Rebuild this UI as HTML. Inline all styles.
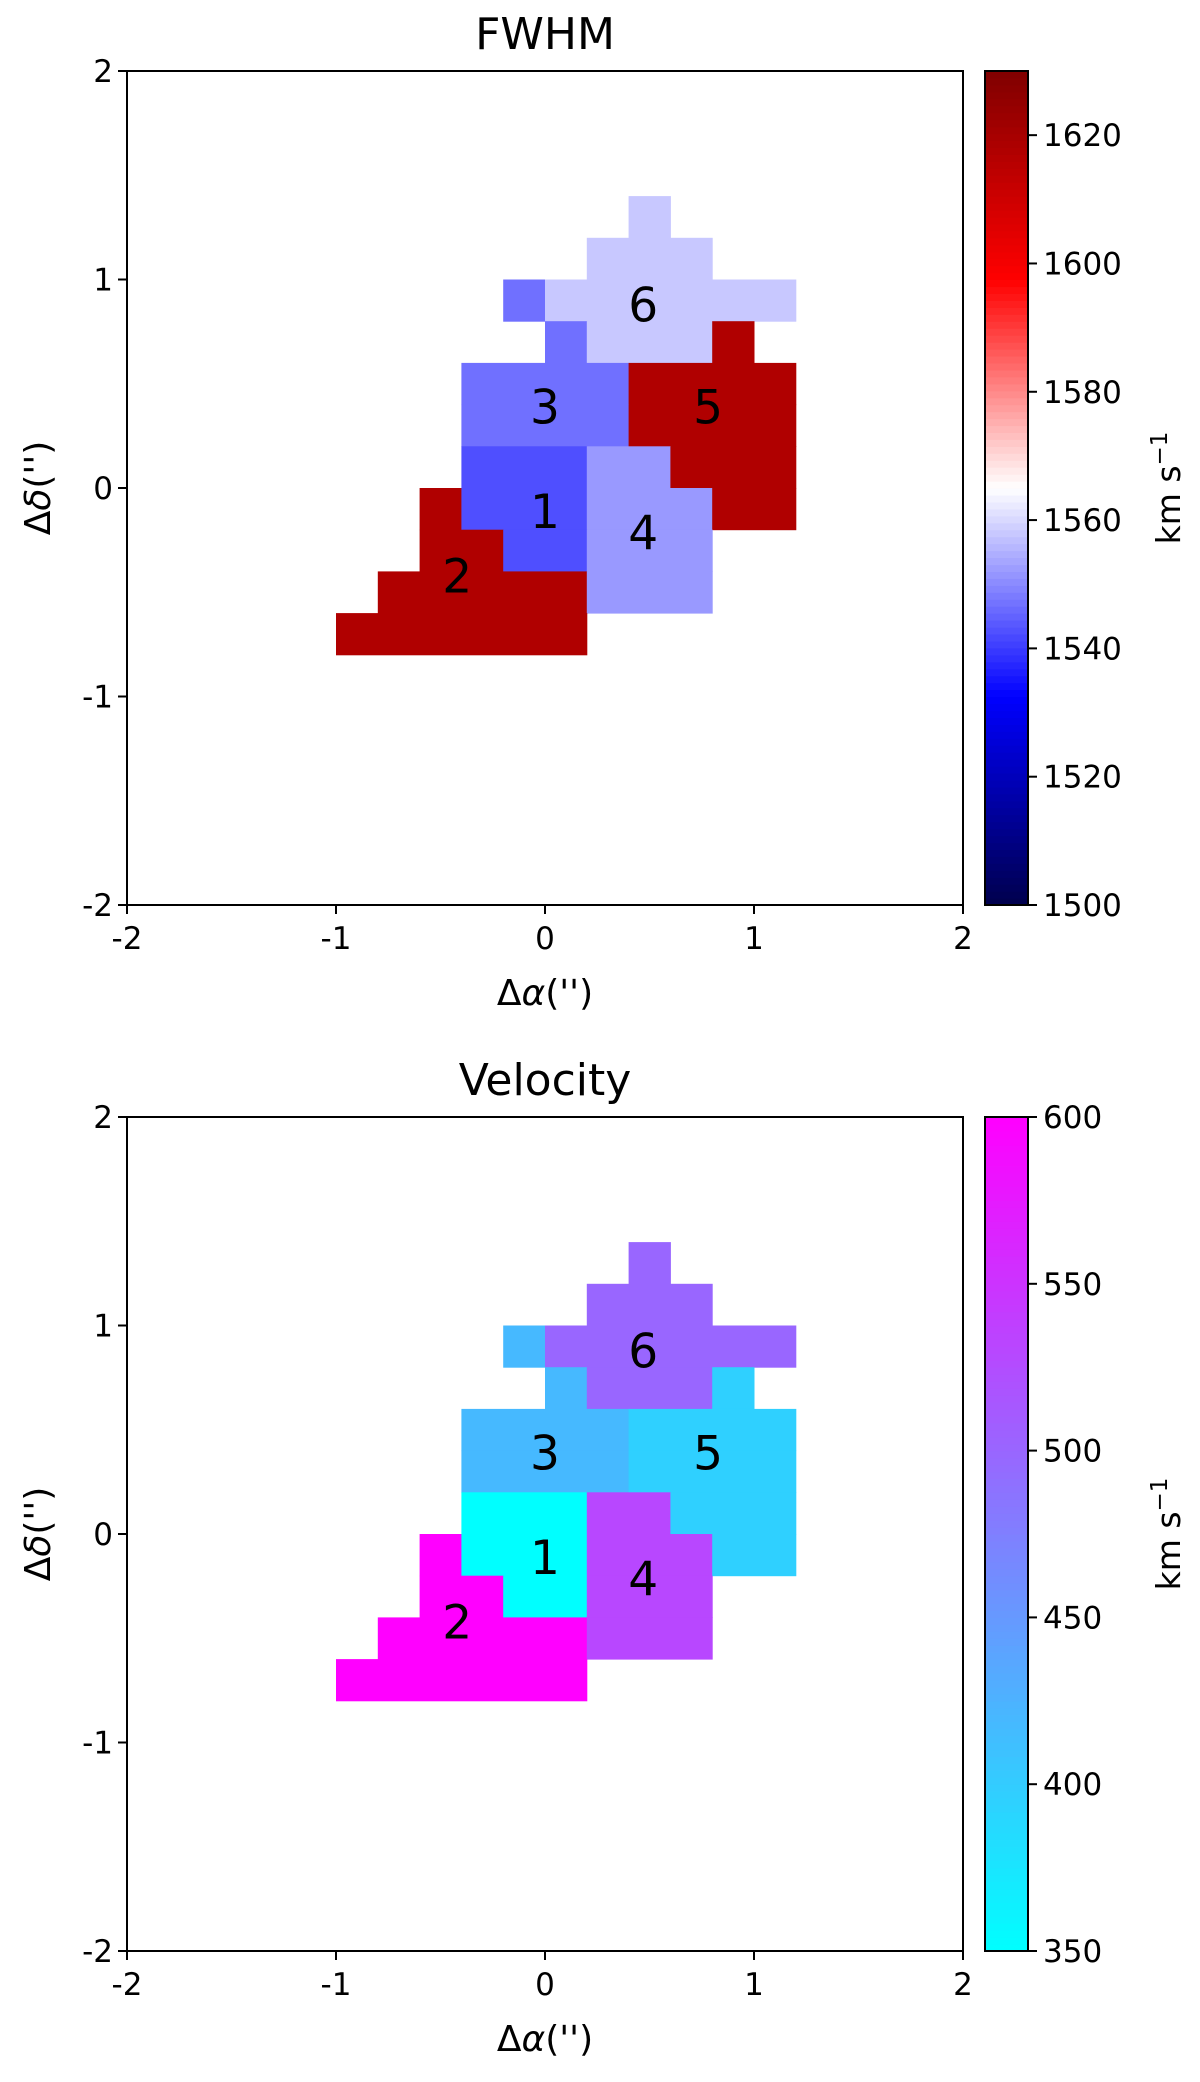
<!DOCTYPE html>
<html><head><meta charset="utf-8"><style>
body{margin:0;background:#fff}
svg text{font-family:"DejaVu Sans","Liberation Sans",sans-serif;fill:#000}
</style></head><body>
<svg id="fig" width="1200" height="2077" xmlns="http://www.w3.org/2000/svg"></svg>
<script>
// Region map: each row = [yBottom, xStart, xEnd, regionId] in arcsec (cell size 0.2)
const cellRows = [
 [1.2,0.4,0.6,6],
 [1.0,0.2,0.8,6],
 [0.8,-0.2,0.0,3],[0.8,0.0,1.2,6],
 [0.6,0.0,0.2,3],[0.6,0.2,0.8,6],[0.6,0.8,1.0,5],
 [0.4,-0.4,0.4,3],[0.4,0.4,1.2,5],
 [0.2,-0.4,0.4,3],[0.2,0.4,1.2,5],
 [0.0,-0.4,0.2,1],[0.0,0.2,0.6,4],[0.0,0.6,1.2,5],
 [-0.2,-0.6,-0.4,2],[-0.2,-0.4,0.2,1],[-0.2,0.2,0.8,4],[-0.2,0.8,1.2,5],
 [-0.4,-0.6,-0.2,2],[-0.4,-0.2,0.2,1],[-0.4,0.2,0.8,4],
 [-0.6,-0.8,0.2,2],[-0.6,0.2,0.8,4],
 [-0.8,-1.0,0.2,2]
];
const regionIds = [1,2,3,4,5,6];
const fwhmValues = [1542.6,1617.6,1546.8,1552,1617.6,1558];
const velocityValues = [350,600,418.6,530,396,500];
const labelX = [0.0,-0.42,0.0,0.47,0.78,0.47];
const labelY = [-0.11,-0.42,0.39,-0.21,0.39,0.88];
const axisTicks = [-2,-1,0,1,2];
const fwhmCbarTicks = [1500,1520,1540,1560,1580,1600,1620];
const velCbarTicks = [350,400,450,500,550,600];

const NS="http://www.w3.org/2000/svg";
const svg=document.getElementById('fig');
function mk(tag,attrs,parent){const e=document.createElementNS(NS,tag);for(const k in attrs)e.setAttribute(k,attrs[k]);(parent||svg).appendChild(e);return e;}
function seismic(t){t=Math.max(0,Math.min(1,t));let r,g,b;
 if(t<0.25){r=0;g=0;b=0.3+0.7*t/0.25;}
 else if(t<0.5){const s=(t-0.25)/0.25;r=s;g=s;b=1;}
 else if(t<0.75){const s=(t-0.5)/0.25;r=1;g=1-s;b=1-s;}
 else{const s=(t-0.75)/0.25;r=1-0.5*s;g=0;b=0;}
 return `rgb(${Math.round(r*255)},${Math.round(g*255)},${Math.round(b*255)})`;}
function cool(t){t=Math.max(0,Math.min(1,t));return `rgb(${Math.round(t*255)},${Math.round((1-t)*255)},255)`;}

function panel(p){
 const L=127,R=963,T=p.top,B=p.top+834;
 const sx=v=>L+(v+2)/4*(R-L), sy=v=>B-(v+2)/4*(B-T);
 const g=mk('g',{});
 
 
 const t=mk('text',{x:(L+R)/2,y:T-22,'font-size':44,'text-anchor':'middle'},g);t.textContent=p.title;
 
 cellRows.forEach(r=>{
  const idx=regionIds.indexOf(r[3]);
  const c=mk('rect',{x:sx(r[1]),y:sy(r[0]+0.2),width:sx(r[2])-sx(r[1])+0.5,height:sy(r[0])-sy(r[0]+0.2)+0.5,fill:p.cmap((p.vals[idx]-p.vmin)/(p.vmax-p.vmin))},g);
  
  
 });
 regionIds.forEach((id,i)=>{
  const l=mk('text',{x:sx(labelX[i]),y:sy(labelY[i])+17,'font-size':47,'text-anchor':'middle'},g);l.textContent=id;
  
 });
 const f=mk('rect',{x:L,y:T,width:R-L,height:B-T,fill:'none',stroke:'#000','stroke-width':2},g);
 
 axisTicks.forEach(v=>{
  mk('line',{x1:sx(v),x2:sx(v),y1:B,y2:B+9,stroke:'#000','stroke-width':2},g);
  const xt=mk('text',{x:sx(v),y:B+44,'font-size':31,'text-anchor':'middle'},g);xt.textContent=v;
  
  mk('line',{x1:L-9,x2:L,y1:sy(v),y2:sy(v),stroke:'#000','stroke-width':2},g);
  const yt=mk('text',{x:L-14,y:sy(v)+11,'font-size':31,'text-anchor':'end'},g);yt.textContent=v;
  
 });
 const xl=mk('text',{x:(L+R)/2,y:B+100,'font-size':36,'text-anchor':'middle'},g);
 xl.innerHTML="\u0394<tspan font-style=\"italic\">\u03b1</tspan>('')";
 
 const yl=mk('text',{x:0,y:0,'font-size':36,'text-anchor':'middle',transform:`translate(50,${(T+B)/2}) rotate(-90)`},g);
 yl.innerHTML="\u0394<tspan font-style=\"italic\">\u03b4</tspan>('')";
 
 const cL=985,cR=1028;
 const cy=v=>B-(v-p.vmin)/(p.vmax-p.vmin)*(B-T);
 const n=120;
 for(let k=0;k<n;k++){
  const v0=p.vmin+(p.vmax-p.vmin)*k/n, v1=p.vmin+(p.vmax-p.vmin)*(k+1)/n;
  mk('rect',{x:cL,y:cy(v1),width:cR-cL,height:cy(v0)-cy(v1)+0.6,fill:p.cmap(((v0+v1)/2-p.vmin)/(p.vmax-p.vmin))},g);
 }
 const cf=mk('rect',{x:cL,y:T,width:cR-cL,height:B-T,fill:'none',stroke:'#000','stroke-width':2},g);
 
 p.cticks.forEach(v=>{
  mk('line',{x1:cR,x2:cR+9,y1:cy(v),y2:cy(v),stroke:'#000','stroke-width':2},g);
  const ct=mk('text',{x:cR+15,y:cy(v)+11,'font-size':31},g);ct.textContent=v;
  
 });
 const cl=mk('text',{x:0,y:0,'font-size':33,'text-anchor':'middle',transform:`translate(1180,${(T+B)/2}) rotate(-90)`},g);
 cl.innerHTML='km s<tspan dy="-13" font-size="23">\u22121</tspan>';
 
}
panel({name:'fwhm',title:'FWHM',top:71,vals:fwhmValues,vmin:1500,vmax:1630,cmap:seismic,cticks:fwhmCbarTicks});
panel({name:'velocity',title:'Velocity',top:1117,vals:velocityValues,vmin:350,vmax:600,cmap:cool,cticks:velCbarTicks});
</script>
</body></html>
